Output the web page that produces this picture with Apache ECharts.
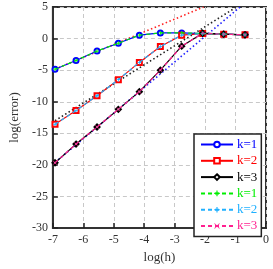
<!DOCTYPE html>
<html>
<head>
<meta charset="utf-8">
<script src="https://cdn.jsdelivr.net/npm/echarts@6/dist/echarts.min.js"></script>
<style>html,body{margin:0;padding:0;background:#fff;}#c{width:273px;height:269px;}</style>
</head>
<body>
<div id="c"></div>
<script>
var logh = [-6.93, -6.24, -5.55, -4.85, -4.16, -3.47, -2.77, -2.08, -1.39, -0.69];
var k1 = [-4.85, -3.46, -1.97, -0.74, 0.54, 0.9, 0.9, 0.8, 0.7, 0.6];
var k2 = [-13.57, -11.4, -9.05, -6.5, -3.77, -1.26, 0.54, 0.8, 0.7, 0.6];
var k3 = [-19.66, -16.7, -14.0, -11.2, -8.4, -5.0, -1.2, 0.85, 0.7, 0.6];
var k1b = [-4.85, -3.46, -1.97, -0.74, 0.54, 0.9, 0.9, 0.8, 0.7, 0.6];
var k2b = [-13.57, -11.4, -9.05, -6.5, -3.77, -1.26, 0.54, 0.8, 0.7, 0.6];
var k3b = [-19.66, -16.7, -14.0, -11.2, -8.4, -5.0, -1.2, 0.85, 0.7, 0.6];
var refRed = [[-6.93, -4.85], [-2.05, 5.0]];
var refBlack = [[-6.93, -13.0], [-0.97, 5.0]];
var refBlue = [[-6.93, -19.6], [-0.85, 5.0]];
var xTicks = [-7, 0, 1];
var yTicks = [-30, 5, 5];
var annot = [[-3.5, -24.6]];
var legendNames = ['k=1', 'k=2', 'k=3', 'k=1', 'k=2', 'k=3'];

var FONT = 'Liberation Serif';
function pairs(ys) { return logh.map(function (x, i) { return [x, ys[i]]; }); }
var plusPath = 'path://M4,0h2v10h-2z M0,4h10v2h-10z';
var crossPath = 'path://M1,0L5,4L9,0L10,1L6,5L10,9L9,10L5,6L1,10L0,9L4,5L0,1z';

function solid(id, data, color, symbol) {
  return {
    id: id, name: id, type: 'line', data: pairs(data), symbol: symbol, symbolSize: 5,
    lineStyle: { color: color, width: 1.2 },
    itemStyle: { color: color, borderColor: color, borderWidth: 0.8 },
    z: 3, animation: false
  };
}
function dashed(id, data, color, symbol) {
  return {
    id: id, name: id, type: 'line', data: pairs(data), symbol: symbol, symbolSize: 4,
    lineStyle: { color: color, width: 1.2, type: [4, 3] },
    itemStyle: { color: color },
    z: 4, animation: false
  };
}
function dotted(data, color) {
  return {
    type: 'line', data: data, symbol: 'none', silent: true,
    lineStyle: { color: color, width: 1.6, type: [1.5, 2.5] }, z: 2, animation: false
  };
}
var colors = ['#0000ff', '#ff0000', '#000000', '#00ee00', '#1fb0ff', '#ff2090'];
var ids = ['s1', 's2', 's3', 's4', 's5', 's6'];
var chart = echarts.init(document.getElementById('c'));
chart.setOption({
  animation: false,
  grid: { left: 39, top: 7, width: 227, height: 227, show: true, borderColor: '#333', borderWidth: 2, backgroundColor: 'transparent' },
  xAxis: {
    type: 'value', min: xTicks[0], max: xTicks[1], interval: xTicks[2],
    name: 'log(h)', nameLocation: 'middle', nameGap: 21,
    nameTextStyle: { fontFamily: FONT, fontSize: 13, color: '#333' },
    axisLine: { show: true, onZero: false, lineStyle: { color: '#333', width: 2 } },
    axisTick: { show: true, inside: true, length: 5, lineStyle: { color: '#222', width: 1.5 } },
    axisLabel: { fontFamily: FONT, fontSize: 12, color: '#333', margin: 6 },
    splitLine: { show: true, lineStyle: { color: '#c8c8c8', type: [4, 3], width: 1 } }
  },
  yAxis: {
    type: 'value', min: yTicks[0], max: yTicks[1], interval: yTicks[2],
    name: 'log(error)', nameLocation: 'middle', nameGap: 25, nameRotate: 90,
    nameTextStyle: { fontFamily: FONT, fontSize: 13, color: '#333' },
    axisLine: { show: true, onZero: false, lineStyle: { color: '#333', width: 2 } },
    axisTick: { show: true, inside: true, length: 5, lineStyle: { color: '#222', width: 1.5 } },
    axisLabel: { fontFamily: FONT, fontSize: 12, color: '#333', margin: 5 },
    splitLine: { show: true, lineStyle: { color: '#c8c8c8', type: [4, 3], width: 1 } }
  },
  legend: {
    orient: 'vertical', left: 194, top: 134, width: 69,
    padding: [4, 4, 4, 6], itemGap: 3.3, itemWidth: 32, itemHeight: 7,
    backgroundColor: '#fff', borderColor: '#222', borderWidth: 1.5, borderRadius: 0,
    formatter: function (n) { return legendNames[ids.indexOf(n)]; },
    data: ids.map(function (id, i) {
      return { name: id, textStyle: { color: colors[i] } };
    }),
    textStyle: { fontFamily: FONT, fontSize: 13, lineHeight: 10, padding: [0, 0, 0, -1] }
  },
  series: [
    dotted(refRed, '#ff2020'),
    dotted(refBlack, '#222'),
    dotted(refBlue, '#2020ff'),
    solid('s1', k1, colors[0], 'emptyCircle'),
    solid('s2', k2, colors[1], 'emptyRect'),
    solid('s3', k3, colors[2], 'emptyDiamond'),
    dashed('s4', k1b, colors[3], plusPath),
    dashed('s5', k2b, colors[4], plusPath),
    dashed('s6', k3b, colors[5], crossPath),
    {
      type: 'scatter', data: annot, symbolSize: 1, itemStyle: { opacity: 0 }, silent: true, z: 5,
      label: { show: true, position: 'inside', formatter: 'κ = 50', fontFamily: FONT, fontSize: 13,
        color: '#333', backgroundColor: '#fff', padding: [1, 2] }
    }
  ]
});
</script>
</body>
</html>
